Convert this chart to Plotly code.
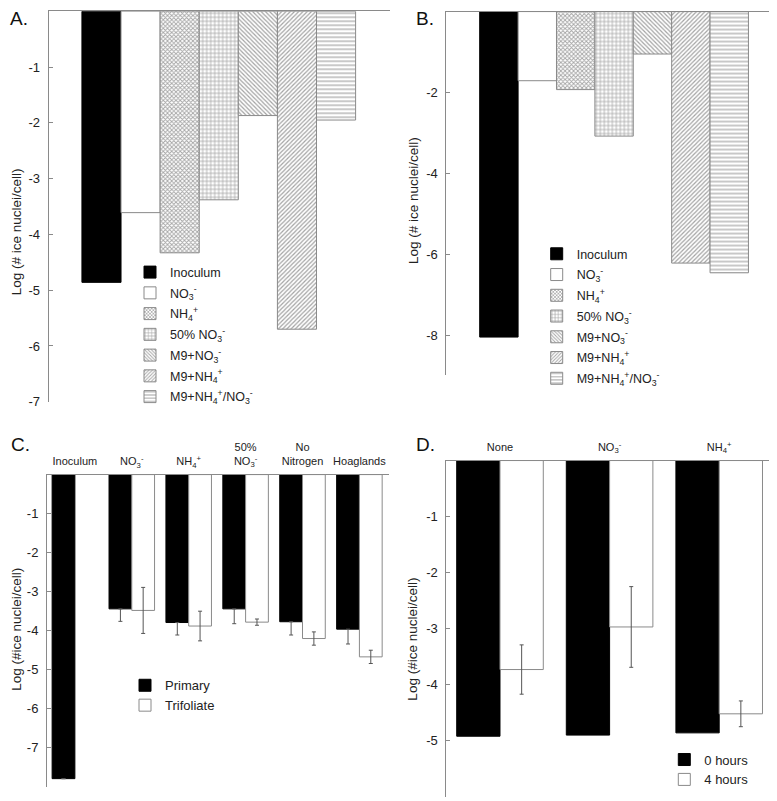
import plotly.graph_objects as go

# ---------------- data ----------------
ab_labels = ["Inoculum", "NO<sub>3</sub><sup>-</sup>", "NH<sub>4</sub><sup>+</sup>",
             "50% NO<sub>3</sub><sup>-</sup>", "M9+NO<sub>3</sub><sup>-</sup>",
             "M9+NH<sub>4</sub><sup>+</sup>", "M9+NH<sub>4</sub><sup>+</sup>/NO<sub>3</sub><sup>-</sup>"]
a_values = [-4.86, -3.61, -4.33, -3.38, -1.87, -5.70, -1.95]
b_values = [-8.05, -1.71, -1.93, -3.08, -1.05, -6.22, -6.46]

c_categories = ["Inoculum", "NO<sub>3</sub><sup>-</sup>", "NH<sub>4</sub><sup>+</sup>",
                "50%<br>NO<sub>3</sub><sup>-</sup>", "No<br>Nitrogen", "Hoaglands"]
c_primary = [-7.79, -3.44, -3.79, -3.44, -3.77, -3.96]
c_primary_err = [0, 0.32, 0.32, 0.38, 0.34, 0.38]
c_trifoliate = [None, -3.48, -3.88, -3.78, -4.20, -4.67]
c_trifoliate_err = [0, 0.59, 0.38, 0.08, 0.17, 0.17]

d_categories = ["None", "NO<sub>3</sub><sup>-</sup>", "NH<sub>4</sub><sup>+</sup>"]
d_0h = [-4.92, -4.90, -4.86]
d_4h = [-3.73, -2.97, -4.52]
d_4h_err = [0.44, 0.72, 0.23]

a_ticks = [-1, -2, -3, -4, -5, -6, -7]
b_ticks = [-2, -4, -6, -8]
c_ticks = [-1, -2, -3, -4, -5, -6, -7]
d_ticks = [-1, -2, -3, -4, -5]

# ---------------- styles ----------------
FONT = "Liberation Sans, Arial, sans-serif"
GRAY = "#8a8a8a"
PAT = "#484848"
bar_styles = [
    dict(color="black", line=dict(color="black", width=1)),
    dict(color="white", line=dict(color=GRAY, width=1)),
    dict(color="white", line=dict(color=GRAY, width=1),
         pattern=dict(shape="x", fgcolor=PAT, size=3, solidity=0.5)),
    dict(color="white", line=dict(color=GRAY, width=1),
         pattern=dict(shape="+", fgcolor=PAT, size=4, solidity=0.35)),
    dict(color="white", line=dict(color=GRAY, width=1),
         pattern=dict(shape="\\", fgcolor=PAT, size=3, solidity=0.4)),
    dict(color="white", line=dict(color=GRAY, width=1),
         pattern=dict(shape="/", fgcolor=PAT, size=3, solidity=0.4)),
    dict(color="white", line=dict(color=GRAY, width=1),
         pattern=dict(shape="-", fgcolor=PAT, size=4, solidity=0.3)),
]

fig = go.Figure()

# Panel A and B
for vals, xa, ya, lg, tag in [(a_values, "x", "y", "legend", "a"),
                              (b_values, "x2", "y2", "legend2", "b")]:
    for i, (lab, v) in enumerate(zip(ab_labels, vals)):
        fig.add_trace(go.Bar(x=[i], y=[v], width=1, offset=-0.5, name=lab,
                             marker=bar_styles[i], xaxis=xa, yaxis=ya, legend=lg,
                             legendgroup=f"{tag}{i}", showlegend=True))

# Panel C
cx = list(range(len(c_categories)))
fig.add_trace(go.Bar(x=cx, y=c_primary, width=0.4, offset=-0.4, name="Primary",
                     marker=dict(color="black", line=dict(color="black", width=1)),
                     error_y=dict(type="data", symmetric=False, array=[0] * len(cx),
                                  arrayminus=c_primary_err, color="#555", thickness=1, width=2),
                     xaxis="x3", yaxis="y3", legend="legend3"))
fig.add_trace(go.Bar(x=cx, y=c_trifoliate, width=0.4, offset=0, name="Trifoliate",
                     marker=dict(color="white", line=dict(color=GRAY, width=1)),
                     error_y=dict(type="data", array=c_trifoliate_err, color="#555",
                                  thickness=1, width=2),
                     xaxis="x3", yaxis="y3", legend="legend3"))

# Panel D
dx = list(range(len(d_categories)))
fig.add_trace(go.Bar(x=dx, y=d_0h, width=0.395, offset=-0.395, name="0 hours",
                     marker=dict(color="black", line=dict(color="black", width=1)),
                     xaxis="x4", yaxis="y4", legend="legend4"))
fig.add_trace(go.Bar(x=dx, y=d_4h, width=0.395, offset=0, name="4 hours",
                     marker=dict(color="white", line=dict(color=GRAY, width=1)),
                     error_y=dict(type="data", array=d_4h_err, color="#555",
                                  thickness=1, width=2),
                     xaxis="x4", yaxis="y4", legend="legend4"))

W, H = 777, 801


def xdom(l, r):
    return [l / W, r / W]


def ydom(top, bottom):
    return [1 - bottom / H, 1 - top / H]


def yax(dom, rng, ticks, anchor):
    return dict(domain=dom, range=rng, anchor=anchor, tickvals=ticks,
                ticktext=[str(t) for t in ticks], showline=True, linecolor=GRAY,
                linewidth=1, ticks="inside", ticklen=4, tickcolor=GRAY,
                showgrid=False, zeroline=False, ticklabelstandoff=5,
                tickfont=dict(size=13, color="#222", family=FONT))


def xax(dom, rng, anchor, tickvals=None, ticktext=None):
    d = dict(domain=dom, range=rng, anchor=anchor, side="top", showline=True,
             linecolor=GRAY, linewidth=1, ticks="", showgrid=False, zeroline=False)
    if tickvals is None:
        d.update(showticklabels=False)
    else:
        d.update(tickvals=tickvals, ticktext=ticktext, ticklabelstandoff=4,
                 tickfont=dict(size=11, color="#222", family=FONT))
    return d


fig.update_layout(
    width=W, height=H, margin=dict(l=0, r=0, t=0, b=0),
    paper_bgcolor="white", plot_bgcolor="white",
    font=dict(family=FONT, color="#222"),
    barmode="overlay", showlegend=True,
    xaxis=xax(xdom(40.7, 382), [-1.35, 7.38], "y"),
    yaxis=yax(ydom(3.3, 397.7), [-7, 0], a_ticks, "x"),
    xaxis2=xax(xdom(438.3, 775), [-1.37, 7.40], "y2"),
    yaxis2=yax(ydom(3.6, 371.2), [-9, 0], b_ticks, "x2"),
    xaxis3=xax(xdom(39, 381), [-0.49, 5.52], "y3", cx, c_categories),
    yaxis3=yax(ydom(471.3, 786.7), [-8, 0], c_ticks, "x3"),
    xaxis4=xax(xdom(438.3, 766), [-0.49, 2.5], "y4", dx, d_categories),
    yaxis4=yax(ydom(457.1, 796.7), [-6, 0], d_ticks, "x4"),
    legend=dict(x=122 / W, y=1 - 252 / H, xanchor="left", yanchor="top",
                tracegroupgap=1.5,
                bgcolor="rgba(0,0,0,0)", font=dict(size=12.5, family=FONT, color="#222")),
    legend2=dict(x=528.7 / W, y=1 - 233.5 / H, xanchor="left", yanchor="top",
                 tracegroupgap=1.5,
                 bgcolor="rgba(0,0,0,0)", font=dict(size=12.5, family=FONT, color="#222")),
    legend3=dict(x=117 / W, y=1 - 669 / H, xanchor="left", yanchor="top",
                 bgcolor="rgba(0,0,0,0)", font=dict(size=13, family=FONT, color="#222")),
    legend4=dict(x=656.3 / W, y=1 - 744 / H, xanchor="left", yanchor="top",
                 bgcolor="rgba(0,0,0,0)", font=dict(size=13, family=FONT, color="#222")),
)

# panel letters and y titles
annots = [("A.", 0, 11), ("B.", 406, 11), ("C.", 1, 441), ("D.", 406, 441)]
for txt, x, y in annots:
    fig.add_annotation(text=txt, x=x / W, y=1 - y / H, xref="paper", yref="paper",
                       xanchor="left", yanchor="middle", showarrow=False,
                       font=dict(size=19, family=FONT, color="#111"))

ytitles = [("Log (# ice nuclei/cell)", 8.5, 226), ("Log (# ice nuclei/cell)", 405, 194),
           ("Log (#ice nuclei/cell)", 9, 628), ("Log (#ice nuclei/cell)", 404.5, 637.5)]
for txt, x, y in ytitles:
    fig.add_annotation(text=txt, x=x / W, y=1 - y / H, xref="paper", yref="paper",
                       xanchor="center", yanchor="middle", showarrow=False, textangle=-90,
                       font=dict(size=13.5, family=FONT, color="#222"))

fig.write_html("out.html")
